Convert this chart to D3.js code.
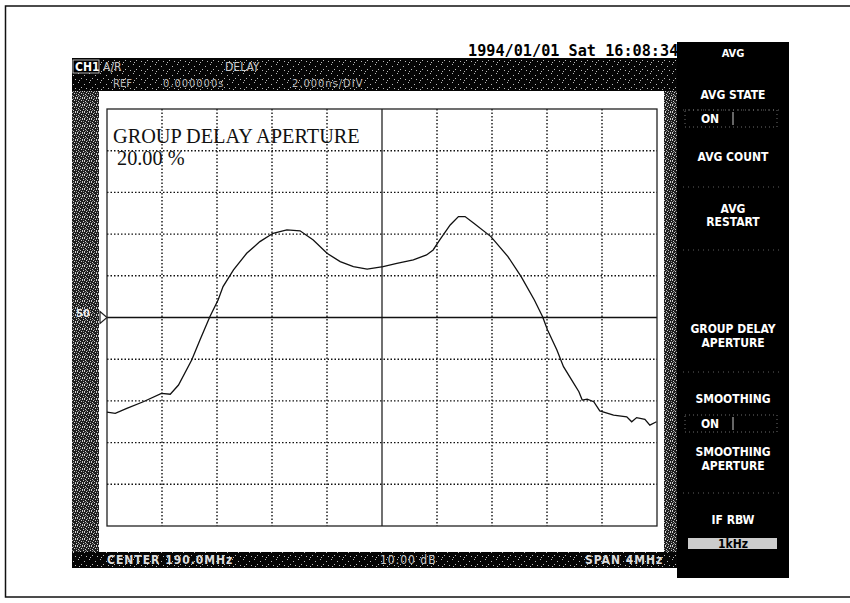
<!DOCTYPE html>
<html><head><meta charset="utf-8">
<script src="https://cdn.jsdelivr.net/npm/d3@7"></script>
<style>html,body{margin:0;padding:0;background:#fff;}svg{display:block;}</style>
</head><body>
<script>
// ---- data ----
// x: horizontal divisions (0..10 across span), y: vertical divisions from reference line (±5)
const traceX = [0.00,0.15,0.36,0.66,0.99,1.15,1.30,1.54,1.69,1.87,2.02,2.11,2.30,2.54,2.78,3.02,3.27,3.51,3.75,4.00,4.24,4.48,4.73,5.02,5.27,5.57,5.81,5.93,6.05,6.24,6.39,6.51,6.67,6.98,7.29,7.53,7.77,7.92,8.01,8.18,8.30,8.45,8.58,8.64,8.73,8.85,8.96,9.21,9.45,9.54,9.63,9.78,9.87,9.99];
const traceY = [-2.27,-2.30,-2.18,-2.02,-1.82,-1.84,-1.62,-1.02,-0.54,0.02,0.42,0.74,1.14,1.54,1.82,2.02,2.10,2.08,1.86,1.54,1.34,1.22,1.16,1.22,1.30,1.38,1.50,1.62,1.86,2.22,2.42,2.42,2.26,1.94,1.46,0.98,0.42,0.02,-0.30,-0.78,-1.18,-1.50,-1.78,-1.98,-1.96,-2.02,-2.24,-2.34,-2.38,-2.50,-2.40,-2.44,-2.58,-2.50];
const xTicks = [0,1,2,3,4,5,6,7,8,9,10];
const yTicks = [-5,-4,-3,-2,-1,0,1,2,3,4,5];
const menuItems = [["AVG"],["AVG STATE"],["AVG COUNT"],["AVG","RESTART"],[],["GROUP DELAY","APERTURE"],["SMOOTHING"],["SMOOTHING","APERTURE"],["IF RBW"]];
const headerLine1 = ["CH1", "A/R", "DELAY"];
const headerLine2 = ["REF", "0.000000s", "2.000ns/DIV"];
const footerTexts = ["CENTER 190.0MHz", "10.00 dB", "SPAN 4MHz"];
const dateText = "1994/01/01 Sat 16:08:34";
const apertureTitle = "GROUP DELAY APERTURE";
const apertureValue = "20.00 %";

const W = 850, H = 603;
const svg = d3.select("body").append("svg").attr("width", W).attr("height", H);
const defs = svg.append("defs");

// speckle textures
const p1 = defs.append("pattern").attr("id","speck").attr("width",7).attr("height",7).attr("patternUnits","userSpaceOnUse");
p1.append("rect").attr("width",7).attr("height",7).attr("fill","#1e1e1e");
[[0,0],[2,1],[5,0],[1,3],[4,2],[6,4],[3,5],[0,6],[5,6]].forEach(([a,b])=>p1.append("rect").attr("x",a).attr("y",b).attr("width",1).attr("height",1).attr("fill","#cfcfcf"));
[[3,0],[6,2],[1,5],[2,4]].forEach(([a,b])=>p1.append("rect").attr("x",a).attr("y",b).attr("width",1).attr("height",1).attr("fill","#8a8a8a"));
const p2 = defs.append("pattern").attr("id","speck2").attr("width",11).attr("height",9).attr("patternUnits","userSpaceOnUse");
p2.append("rect").attr("width",11).attr("height",9).attr("fill","#050505");
[[1,1],[7,3],[4,6],[9,7],[2,8]].forEach(([a,b])=>p2.append("rect").attr("x",a).attr("y",b).attr("width",1).attr("height",1).attr("fill","#bbb"));

// outer border
svg.append("rect").attr("x",5.5).attr("y",6).attr("width",W+20).attr("height",591).attr("fill","none").attr("stroke","#111").attr("stroke-width",1.5);

// screen frame
const fx0=72, fy0=58, fx1=677, fy1=568;
svg.append("rect").attr("x",fx0).attr("y",fy0).attr("width",fx1-fx0).attr("height",fy1-fy0).attr("fill","url(#speck)");
svg.append("rect").attr("x",fx0).attr("y",fy0).attr("width",fx1-fx0).attr("height",33).attr("fill","url(#speck2)");
svg.append("rect").attr("x",fx0).attr("y",552).attr("width",fx1-fx0).attr("height",fy1-552).attr("fill","url(#speck2)");
svg.append("rect").attr("x",99).attr("y",91).attr("width",565).attr("height",461).attr("fill","#fff");

// header texts
const hfont = "'Liberation Sans Narrow','DejaVu Sans Condensed',sans-serif";
svg.append("rect").attr("x",73).attr("y",60).attr("width",26).attr("height",13).attr("fill","#000").attr("stroke","#ddd").attr("stroke-width",0.8);
svg.append("text").attr("x",75).attr("y",71).text(headerLine1[0]).attr("fill","#fff").attr("font-family",hfont).attr("font-weight","bold").attr("font-size",12);
svg.append("text").attr("x",103).attr("y",71).text(headerLine1[1]).attr("fill","#ccc").attr("font-family",hfont).attr("font-size",12);
svg.append("text").attr("x",225).attr("y",71).text(headerLine1[2]).attr("fill","#ccc").attr("font-family",hfont).attr("font-size",12);
svg.append("text").attr("x",113).attr("y",87).text(headerLine2[0]).attr("fill","#bbb").attr("font-family",hfont).attr("font-size",11);
svg.append("text").attr("x",163).attr("y",87).text(headerLine2[1]).attr("fill","#bbb").attr("font-family",hfont).attr("font-size",11).attr("letter-spacing",1);
svg.append("text").attr("x",292).attr("y",87).text(headerLine2[2]).attr("fill","#bbb").attr("font-family",hfont).attr("font-size",11).attr("letter-spacing",1);

// footer texts
svg.append("text").attr("x",107).attr("y",564).text(footerTexts[0]).attr("fill","#ddd").attr("font-family",hfont).attr("font-weight","bold").attr("font-size",12).attr("letter-spacing",1);
svg.append("text").attr("x",380).attr("y",564).text(footerTexts[1]).attr("fill","#ccc").attr("font-family",hfont).attr("font-size",12).attr("letter-spacing",1);
svg.append("text").attr("x",585).attr("y",564).text(footerTexts[2]).attr("fill","#ddd").attr("font-family",hfont).attr("font-weight","bold").attr("font-size",12).attr("letter-spacing",1);

// date
svg.append("text").attr("x",468).attr("y",56).text(dateText).attr("fill","#000").attr("font-family","'DejaVu Sans Mono',monospace").attr("font-weight","bold").attr("font-size",15.2);

// plot
const px0=107, px1=657, py0=109, py1=526;
const x = d3.scaleLinear().domain([0,10]).range([px0,px1]);
const y = d3.scaleLinear().domain([-5,5]).range([py1,py0]);
const g = svg.append("g");
g.selectAll(".vg").data(xTicks.slice(1,-1)).join("line")
  .attr("x1",d=>x(d)).attr("x2",d=>x(d)).attr("y1",py0).attr("y2",py1)
  .attr("stroke","#111").attr("stroke-width",d=>d===5?1.2:1.4)
  .attr("stroke-dasharray",d=>d===5?null:"1.5,2");
g.selectAll(".hg").data(yTicks.slice(1,-1)).join("line")
  .attr("y1",d=>y(d)).attr("y2",d=>y(d)).attr("x1",px0).attr("x2",px1)
  .attr("stroke","#111").attr("stroke-width",d=>d===0?1.5:1.4)
  .attr("stroke-dasharray",d=>d===0?null:"1.5,2");
g.append("rect").attr("x",px0).attr("y",py0).attr("width",px1-px0).attr("height",py1-py0).attr("fill","none").attr("stroke","#222").attr("stroke-width",1.3);
// reference marker
g.append("path").attr("d",`M${px0-7},${y(0)-6}L${px0},${y(0)}L${px0-7},${y(0)+6}Z`).attr("fill","#fff").attr("stroke","#222").attr("stroke-width",1.2);
svg.append("text").attr("x",76).attr("y",y(0)-1).text("50").attr("fill","#eee").attr("font-family",hfont).attr("font-weight","bold").attr("font-size",11);

// trace
const line = d3.line().x((d,i)=>x(traceX[i])).y(d=>y(d));
g.append("path").datum(traceY).attr("d",line).attr("fill","none").attr("stroke","#111").attr("stroke-width",1.3);

// annotation
g.append("text").attr("x",113).attr("y",143).text(apertureTitle).attr("font-family","'Liberation Serif','Times New Roman',serif").attr("font-size",20.3).attr("fill","#111");
g.append("text").attr("x",117).attr("y",165).text(apertureValue).attr("font-family","'Liberation Serif','Times New Roman',serif").attr("font-size",20.3).attr("fill","#111");

// right menu panel
const mx0=677, mx1=789, mcx=(mx0+mx1)/2;
svg.append("rect").attr("x",mx0).attr("y",42).attr("width",mx1-mx0).attr("height",536).attr("fill","#000");
const mfont = "'Liberation Sans Narrow','DejaVu Sans Condensed',sans-serif";
const labelY = [[57],[99],[161],[213,226],[],[333,347],[403],[456,470],[524]];
menuItems.forEach((lines,i)=>{
  lines.forEach((t,j)=>{
    svg.append("text").attr("x",mcx).attr("y",labelY[i][j]).attr("text-anchor","middle").text(t)
      .attr("fill","#fff").attr("font-family",mfont).attr("font-weight","bold").attr("font-size",i===0?11:12);
  });
});
// separators
[110,187,250,372,493].forEach(sy=>svg.append("line").attr("x1",mx0+6).attr("x2",mx1-6).attr("y1",sy).attr("y2",sy).attr("stroke","#777").attr("stroke-width",0.8).attr("stroke-dasharray","1,4"));
// ON boxes
[[110,127],[415,432]].forEach(([a,b])=>{
  svg.append("rect").attr("x",mx0+8).attr("y",a).attr("width",mx1-mx0-20).attr("height",b-a).attr("fill","none").attr("stroke","#888").attr("stroke-width",0.8).attr("stroke-dasharray","1,3");
  svg.append("line").attr("x1",mx0+56).attr("x2",mx0+56).attr("y1",a+2).attr("y2",b-2).attr("stroke","#ccc").attr("stroke-width",1);
  svg.append("text").attr("x",mx0+33).attr("y",b-4).attr("text-anchor","middle").text("ON").attr("fill","#fff").attr("font-family",mfont).attr("font-weight","bold").attr("font-size",12);
});
// IF RBW value box
svg.append("rect").attr("x",688).attr("y",538).attr("width",89).attr("height",11).attr("fill","#ccc");
svg.append("text").attr("x",733).attr("y",548).attr("text-anchor","middle").text("1kHz").attr("fill","#000").attr("font-family",mfont).attr("font-weight","bold").attr("font-size",12);
</script>
</body></html>
